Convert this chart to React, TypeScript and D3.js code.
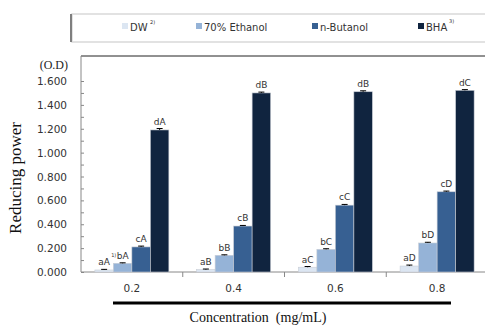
import { useEffect, useRef } from 'react';
import * as d3 from 'd3';

const categories = ['0.2', '0.4', '0.6', '0.8'];
const series = ['DW', '70% Ethanol', 'n-Butanol', 'BHA'];
const colors = ['#dce6f2', '#95b3d7', '#376092', '#10243f'];

// values per series, one per concentration
const dwValues = [0.017, 0.02, 0.04, 0.05];
const ethanolValues = [0.073, 0.14, 0.19, 0.243];
const butanolValues = [0.21, 0.385, 0.56, 0.672];
const bhaValues = [1.19, 1.5, 1.51, 1.522];

const dwErr = [0.005, 0.005, 0.006, 0.008];
const ethanolErr = [0.004, 0.004, 0.005, 0.006];
const butanolErr = [0.007, 0.005, 0.006, 0.006];
const bhaErr = [0.012, 0.007, 0.008, 0.006];

const dwLetters = ['aA', 'aB', 'aC', 'aD'];
const ethanolLetters = ['bA', 'bB', 'bC', 'bD'];
const butanolLetters = ['cA', 'cB', 'cC', 'cD'];
const bhaLetters = ['dA', 'dB', 'dB', 'dC'];

const yTicks = [0, 0.2, 0.4, 0.6, 0.8, 1.0, 1.2, 1.4, 1.6];

export default function App() {
  const svgRef = useRef<SVGSVGElement>(null);

  useEffect(() => {
    const svg = d3.select(svgRef.current);
    svg.selectAll('*').remove();

    const W = 485;
    const H = 327;
    const left = 81;
    const right = 488;
    const top = 56;
    const bottom = 272;
    const sans = '"DejaVu Sans", Verdana, sans-serif';
    const serif = '"Liberation Serif", "Times New Roman", serif';

    const values = [dwValues, ethanolValues, butanolValues, bhaValues];
    const errs = [dwErr, ethanolErr, butanolErr, bhaErr];
    const letters = [dwLetters, ethanolLetters, butanolLetters, bhaLetters];

    const x = d3.scaleBand().domain(categories).range([left, right]).padding(0);
    const xs = d3.scaleBand().domain(series).range([0, x.bandwidth()]).paddingInner(0).paddingOuter(0.75);
    const y = d3.scaleLinear().domain([0, 1.6]).range([bottom, 81]);

    svg.append('rect').attr('width', W).attr('height', H).attr('fill', '#fff');

    // legend box
    const lg = svg.append('g');
    lg.append('rect').attr('x', 72).attr('y', 14).attr('width', 420).attr('height', 28)
      .attr('fill', '#fff').attr('stroke', '#d9d9d9').attr('stroke-width', 1.5);
    lg.append('line').attr('x1', 71).attr('x2', 71).attr('y1', 14).attr('y2', 42)
      .attr('stroke', '#7f7f7f').attr('stroke-width', 2);
    const legX = [122, 196, 312, 418];
    series.forEach((s, i) => {
      lg.append('rect').attr('x', legX[i]).attr('y', 23).attr('width', 6).attr('height', 6)
        .attr('fill', colors[i]);
      lg.append('text').attr('x', legX[i] + 8).attr('y', 30.5)
        .attr('font-family', sans).attr('font-size', 10).attr('fill', '#333').text(s);
    });
    lg.append('text').attr('x', 150).attr('y', 24).attr('font-family', sans).attr('font-size', 5).attr('fill', '#333').text('2)');
    lg.append('text').attr('x', 449).attr('y', 23).attr('font-family', sans).attr('font-size', 5).attr('fill', '#333').text('3)');

    // top frame line
    svg.append('line').attr('x1', left).attr('x2', W).attr('y1', top).attr('y2', top)
      .attr('stroke', '#222').attr('stroke-width', 1);

    // y axis
    const yAxis = svg.append('g').attr('transform', `translate(${left},0)`)
      .call(d3.axisRight(y).tickValues(d3.range(0, 1.61, 0.1)).tickSize(3).tickFormat(() => ''));
    yAxis.select('.domain').remove();
    yAxis.selectAll('line').attr('stroke', '#888');
    svg.append('line').attr('x1', left).attr('x2', left).attr('y1', top).attr('y2', bottom)
      .attr('stroke', '#888');

    svg.append('g').selectAll('text').data(yTicks).join('text')
      .attr('x', 67).attr('y', (d) => y(d) + 4).attr('text-anchor', 'end')
      .attr('font-family', sans).attr('font-size', 10.5).attr('fill', '#333')
      .text((d) => d3.format('.3f')(d));

    svg.append('text').attr('x', 68).attr('y', 69).attr('text-anchor', 'end')
      .attr('font-family', serif).attr('font-size', 12).attr('fill', '#222').text('(O.D)');

    svg.append('text').attr('transform', `translate(21,178) rotate(-90)`).attr('text-anchor', 'middle')
      .attr('font-family', serif).attr('font-size', 17).attr('fill', '#111').text('Reducing power');

    // x axis
    svg.append('line').attr('x1', left).attr('x2', W).attr('y1', bottom).attr('y2', bottom)
      .attr('stroke', '#888');
    svg.append('g').selectAll('line').data(categories.slice(1)).join('line')
      .attr('x1', (d) => x(d)!).attr('x2', (d) => x(d)!).attr('y1', bottom).attr('y2', bottom + 5)
      .attr('stroke', '#888');
    svg.append('g').selectAll('text').data(categories).join('text')
      .attr('x', (d) => x(d)! + x.bandwidth() / 2).attr('y', 292).attr('text-anchor', 'middle')
      .attr('font-family', sans).attr('font-size', 10.5).attr('fill', '#333').text((d) => d);

    // bars
    series.forEach((s, si) => {
      const g = svg.append('g');
      categories.forEach((c, ci) => {
        const v = values[si][ci];
        const e = errs[si][ci];
        const bx = x(c)! + xs(s)!;
        const bw = xs.bandwidth();
        g.append('rect').attr('x', bx).attr('y', y(v)).attr('width', bw).attr('height', bottom - y(v))
          .attr('fill', colors[si]).attr('stroke', '#c8cdd6').attr('stroke-width', 0.6);
        const cx = bx + bw / 2;
        g.append('line').attr('x1', cx).attr('x2', cx).attr('y1', y(v + e)).attr('y2', y(v))
          .attr('stroke', '#000');
        g.append('line').attr('x1', cx - 3).attr('x2', cx + 3).attr('y1', y(v + e)).attr('y2', y(v + e))
          .attr('stroke', '#000');
        g.append('text').attr('x', cx).attr('y', y(v + e) - 4).attr('text-anchor', 'middle')
          .attr('font-family', sans).attr('font-size', 9).attr('fill', '#333').text(letters[si][ci]);
      });
    });
    const dwCx = x(categories[0])! + xs(series[0])! + xs.bandwidth() / 2;
    svg.append('text').attr('x', dwCx + 7).attr('y', y(dwValues[0]) - 13)
      .attr('font-family', sans).attr('font-size', 5).attr('fill', '#333').text('1)');

    // bottom thick rule and title
    svg.append('line').attr('x1', 113).attr('x2', 451).attr('y1', 303).attr('y2', 303)
      .attr('stroke', '#000').attr('stroke-width', 3);
    svg.append('text').attr('x', 258).attr('y', 322).attr('text-anchor', 'middle')
      .attr('font-family', serif).attr('font-size', 14).attr('fill', '#111')
      .attr('xml:space', 'preserve').text('Concentration  (mg/mL)');
  }, []);

  return (
    <svg ref={svgRef} width={485} height={327}
      style={{ position: 'absolute', left: 0, top: 0, display: 'block' }} />
  );
}
